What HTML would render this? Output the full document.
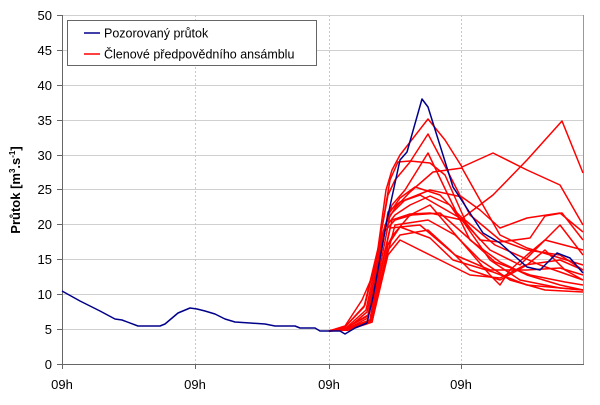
<!DOCTYPE html>
<html><head><meta charset="utf-8"><style>html,body{margin:0;padding:0;background:#fff}</style></head><body>
<svg width="600" height="400" xmlns="http://www.w3.org/2000/svg" font-family="Liberation Sans, Arial, sans-serif">
<rect width="600" height="400" fill="#fff"/>
<g stroke="#d0d0d0" stroke-width="1">
<line x1="62" x2="583" y1="15.5" y2="15.5"/><line x1="62" x2="583" y1="50.5" y2="50.5"/><line x1="62" x2="583" y1="85.5" y2="85.5"/><line x1="62" x2="583" y1="120.5" y2="120.5"/><line x1="62" x2="583" y1="155.5" y2="155.5"/><line x1="62" x2="583" y1="189.5" y2="189.5"/><line x1="62" x2="583" y1="224.5" y2="224.5"/><line x1="62" x2="583" y1="259.5" y2="259.5"/><line x1="62" x2="583" y1="294.5" y2="294.5"/><line x1="62" x2="583" y1="329.5" y2="329.5"/>
</g>
<g stroke="#c8c8c8" stroke-dasharray="2,2"><line x1="195.5" x2="195.5" y1="15" y2="364"/><line x1="329.5" x2="329.5" y1="15" y2="364"/><line x1="461.5" x2="461.5" y1="15" y2="364"/></g>
<line x1="583.5" x2="583.5" y1="15" y2="364" stroke="#999"/>
<g stroke="#666" stroke-width="1"><line x1="62.5" x2="62.5" y1="15" y2="364"/><line x1="62" x2="584" y1="364.5" y2="364.5"/>
<line x1="57" x2="62" y1="15.5" y2="15.5"/><line x1="57" x2="62" y1="50.5" y2="50.5"/><line x1="57" x2="62" y1="85.5" y2="85.5"/><line x1="57" x2="62" y1="120.5" y2="120.5"/><line x1="57" x2="62" y1="155.5" y2="155.5"/><line x1="57" x2="62" y1="189.5" y2="189.5"/><line x1="57" x2="62" y1="224.5" y2="224.5"/><line x1="57" x2="62" y1="259.5" y2="259.5"/><line x1="57" x2="62" y1="294.5" y2="294.5"/><line x1="57" x2="62" y1="329.5" y2="329.5"/><line x1="57" x2="62" y1="364.5" y2="364.5"/>
<line x1="62.5" x2="62.5" y1="364" y2="369"/><line x1="195.5" x2="195.5" y1="364" y2="369"/><line x1="329.5" x2="329.5" y1="364" y2="369"/><line x1="461.5" x2="461.5" y1="364" y2="369"/></g>
<g font-size="13" text-anchor="end" fill="#000">
<text x="52" y="20">50</text><text x="52" y="55">45</text><text x="52" y="90">40</text><text x="52" y="125">35</text><text x="52" y="160">30</text><text x="52" y="194">25</text><text x="52" y="229">20</text><text x="52" y="264">15</text><text x="52" y="299">10</text><text x="52" y="334">5</text><text x="52" y="369">0</text></g>
<g font-size="13" text-anchor="middle"><text x="62" y="389">09h</text><text x="195" y="389">09h</text><text x="329" y="389">09h</text><text x="461" y="389">09h</text></g>
<text transform="translate(20,190) rotate(-90)" font-size="13" font-weight="bold" text-anchor="middle">Průtok [m<tspan font-size="8" dy="-5">3</tspan><tspan dy="5">.s</tspan><tspan font-size="8" dy="-5">-1</tspan><tspan dy="5">]</tspan></text>
<g fill="none" stroke="#ff0000" stroke-width="1.5" stroke-linejoin="round">
<polyline points="329,331 345,326 362,300 375,270 386,190 392,170 400,155 428,119 445,140 462,167 493,153 527,170 560,185 583,225"/>
<polyline points="329,331 345,327 365,305 378,250 388,195 395,180 410,162 428,134 447,170 470,215 500,240 527,250 560,255 583,270"/>
<polyline points="329,331 345,327 364,307 380,240 390,180 398,162 410,161 430,163 445,175 465,220 495,245 540,265 583,280"/>
<polyline points="329,331 346,328 366,310 382,235 392,205 405,190 428,153 448,195 470,240 500,262 527,275 560,285 583,290"/>
<polyline points="329,331 346,328 368,315 385,228 395,215 410,205 430,196 450,205 460,220 493,195 527,160 562,121 583,173"/>
<polyline points="329,331 346,328 368,316 385,225 395,208 410,192 433,172 462,168 480,200 500,235 527,248 560,258 583,265"/>
<polyline points="329,331 347,329 368,318 388,215 400,198 415,187 440,195 462,218 480,240 500,242 530,238 545,216 562,213 583,240"/>
<polyline points="329,331 347,329 370,320 388,212 400,202 420,195 460,218 490,250 520,265 545,240 560,225 583,255"/>
<polyline points="329,331 347,329 370,320 390,215 405,200 430,190 462,197 480,210 500,228 527,218 560,213 583,232"/>
<polyline points="329,331 347,329 370,322 392,220 410,214 430,213 462,220 490,260 520,280 560,288 583,290"/>
<polyline points="329,331 347,330 370,322 395,225 428,220 455,235 480,260 510,280 545,290 583,292"/>
<polyline points="329,331 347,329 370,320 390,228 420,225 455,255 490,270 527,270 560,268 583,275"/>
<polyline points="329,331 348,330 372,322 388,250 400,235 428,230 450,250 470,270 500,280 527,265 545,250 565,270 583,280"/>
<polyline points="329,331 348,330 372,322 388,255 400,240 440,260 470,275 500,278 525,265 560,260 583,270"/>
<polyline points="329,331 348,330 372,322 388,245 400,227 430,238 453,260 493,272 527,285 583,290"/>
<polyline points="329,331 348,329 372,320 385,250 393,235 410,215 430,205 460,240 490,275 500,285 510,270 527,255 545,240 583,250"/>
<polyline points="329,331 347,329 367,312 384,232 395,220 412,215 440,213 465,235 495,262 530,275 565,282 583,285"/>
</g>
<polyline fill="none" stroke="#00008b" stroke-width="1.5" stroke-linejoin="round" points="62,291 80,301 100,311 115,319 122,320 138,326 160,326 165,324 178,313 190,308 197,309 205,311 215,314 225,319 235,322 250,323 265,324 275,326 295,326 300,328 315,328 320,331 340,331 345,334 355,328 367,323 373,297 387,220 400,160 407,152 422,99 428,107 453,187 483,233 500,243 527,267 540,270 557,253 570,258 583,273"/>
<rect x="67.5" y="20.5" width="249" height="45" fill="#fff" stroke="#666"/>
<line x1="84" x2="100" y1="33" y2="33" stroke="#00008b" stroke-width="1.5"/>
<line x1="84" x2="100" y1="54" y2="54" stroke="#ff0000" stroke-width="1.5"/>
<text x="104" y="37.5" font-size="12.5">Pozorovaný průtok</text>
<text x="104" y="58.5" font-size="12.5">Členové předpovědního ansámblu</text>
</svg>
</body></html>
